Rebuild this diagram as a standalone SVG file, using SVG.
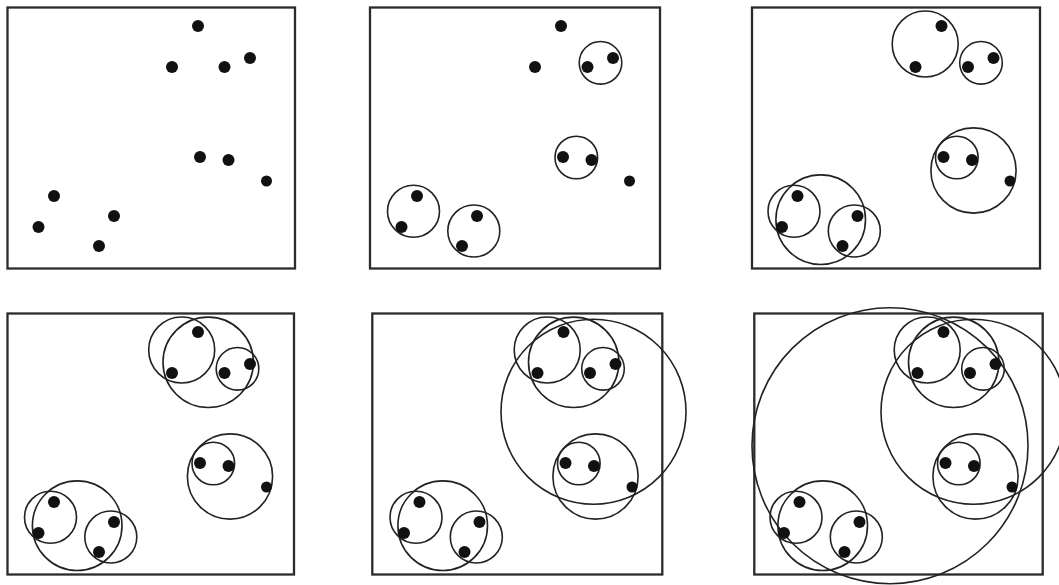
<svg xmlns="http://www.w3.org/2000/svg" xmlns:xlink="http://www.w3.org/1999/xlink" width="1059" height="585" viewBox="0 0 1059 585">
  <style>
    .frame { fill: none; stroke: #2b2b2b; stroke-width: 2.3; }
    .c { fill: none; stroke: #222; stroke-width: 1.6; }
    .dot { fill: #111; }
  </style>
  <defs>
    <g id="dots">
      <circle class="dot" cx="198" cy="26" r="6"/>
      <circle class="dot" cx="172" cy="67" r="6"/>
      <circle class="dot" cx="224.5" cy="67" r="6"/>
      <circle class="dot" cx="250" cy="58" r="6"/>
      <circle class="dot" cx="200" cy="157" r="6"/>
      <circle class="dot" cx="228.5" cy="160" r="6"/>
      <circle class="dot" cx="266.5" cy="181" r="5.5"/>
      <circle class="dot" cx="54" cy="196" r="6"/>
      <circle class="dot" cx="38.5" cy="227" r="6"/>
      <circle class="dot" cx="114" cy="216" r="6"/>
      <circle class="dot" cx="99" cy="246" r="6"/>
    </g>
    <g id="lvl1">
      <circle class="c" cx="50.5" cy="211.2" r="26"/>
      <circle class="c" cx="110.8" cy="231" r="26"/>
      <circle class="c" cx="213.3" cy="157.5" r="21.3"/>
      <circle class="c" cx="237.5" cy="62.8" r="21.3"/>
    </g>
    <g id="lvl2">
      <use xlink:href="#lvl1"/>
      <circle class="c" cx="181.7" cy="44" r="33"/>
      <circle class="c" cx="230" cy="170.5" r="42.6"/>
      <circle class="c" cx="77.2" cy="219.7" r="44.8"/>
    </g>
    <g id="lvl3">
      <use xlink:href="#lvl2"/>
      <circle class="c" cx="208.2" cy="56.3" r="45.2"/>
    </g>
    <g id="lvl4">
      <use xlink:href="#lvl3"/>
      <circle class="c" cx="228" cy="105.7" r="92.5"/>
    </g>
    <g id="lvl5">
      <use xlink:href="#lvl4"/>
      <circle class="c" cx="144.5" cy="139.7" r="138"/>
    </g>
  </defs>

  <g id="panel1">
    <rect class="frame" x="7.5" y="7.5" width="287.5" height="261"/>
    <use xlink:href="#dots"/>
  </g>
  <g id="panel2">
    <rect class="frame" x="370" y="7.5" width="290" height="261"/>
    <g transform="translate(363,0)">
      <use xlink:href="#lvl1"/>
      <use xlink:href="#dots"/>
    </g>
  </g>
  <g id="panel3">
    <rect class="frame" x="752" y="7.5" width="288" height="261"/>
    <g transform="translate(743.5,0)">
      <use xlink:href="#lvl2"/>
      <use xlink:href="#dots"/>
    </g>
  </g>
  <g id="panel4">
    <rect class="frame" x="7.5" y="313.5" width="286.5" height="261"/>
    <g transform="translate(0,306)">
      <use xlink:href="#lvl3"/>
      <use xlink:href="#dots"/>
    </g>
  </g>
  <g id="panel5">
    <rect class="frame" x="372.3" y="313.5" width="290" height="261"/>
    <g transform="translate(365.5,306)">
      <use xlink:href="#lvl4"/>
      <use xlink:href="#dots"/>
    </g>
  </g>
  <g id="panel6">
    <rect class="frame" x="754.3" y="313.5" width="288.4" height="261"/>
    <g transform="translate(745.5,306)">
      <use xlink:href="#lvl5"/>
      <use xlink:href="#dots"/>
    </g>
  </g>
</svg>
